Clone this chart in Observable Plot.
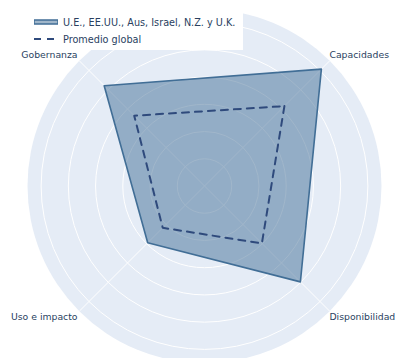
<!DOCTYPE html>
<html>
<head>
<meta charset="utf-8">
<script src="https://cdn.jsdelivr.net/npm/d3@7"></script>
<script src="https://cdn.jsdelivr.net/npm/@observablehq/plot@0.6"></script>
<style>
  html, body { margin: 0; padding: 0; background: #fff; }
  body { font-family: "DejaVu Sans", Verdana, sans-serif; }
  #wrap { position: relative; width: 396px; height: 358px; overflow: hidden; }
  #legend { position: absolute; left: 10px; top: 9px; width: 233px; height: 41px; background: #fff;
            font-size: 9.7px; color: #2a3f5f; }
  .item { position: absolute; left: 24px; display: flex; align-items: center; height: 14px; }
  .item svg { margin-right: 5px; }
</style>
</head>
<body>
<div id="wrap">
  <div id="chart"></div>
  <div id="legend"></div>
</div>
<script>
// ---- data ----
const categories = ["Capacidades", "Disponibilidad", "Uso e impacto", "Gobernanza"];
const groupName = "U.E., EE.UU., Aus, Israel, N.Z. y U.K.";
const globalName = "Promedio global";
const groupValues = [60.7, 49.8, 29.5, 52.1];
const globalValues = [41.5, 29.8, 21.7, 36.5];
const gridTicks = [10, 20, 30, 40, 50, 60];
const radialMax = 65;

// ---- styles ----
const groupColor = "rgb(65,110,150)";
const globalColor = "#2f4a7c";
const bgColor = "#e5ecf6";
const textColor = "#2a3f5f";

// ---- geometry ----
const W = 396, H = 358;
const cx = 204, cy = 185.5, R = 177;
const k = R / radialMax;
const ang = i => (45 - 90 * i) * Math.PI / 180;
const px = (r, i) => r * Math.cos(ang(i));
const py = (r, i) => r * Math.sin(ang(i));

const groupPts = groupValues.map((v, i) => ({x: px(v, i), y: py(v, i)}));
const globalPts = globalValues.map((v, i) => ({x: px(v, i), y: py(v, i)}));
const labels = categories.map((c, i) => ({c, i}));

const chart = Plot.plot({
  width: W,
  height: H,
  margin: 0,
  x: {domain: [-cx / k, (W - cx) / k], axis: null},
  y: {domain: [-(H - cy) / k, cy / k], axis: null},
  r: {type: "linear", domain: [0, radialMax], range: [0, R]},
  style: {fontFamily: '"DejaVu Sans", Verdana, sans-serif', fontSize: "9.3px", color: textColor, background: "transparent"},
  marks: [
    Plot.dot([radialMax], {x: () => 0, y: () => 0, r: d => d, fill: bgColor, stroke: "none"}),
    Plot.dot(gridTicks, {x: () => 0, y: () => 0, r: d => d, fill: "none", stroke: "white", strokeWidth: 1, sort: null}),
    Plot.link(labels, {x1: () => 0, y1: () => 0, x2: d => px(radialMax, d.i), y2: d => py(radialMax, d.i), stroke: "white", strokeWidth: 1}),
    Plot.line(groupPts, {x: "x", y: "y", curve: "linear-closed", fill: groupColor, fillOpacity: 0.5, stroke: groupColor, strokeWidth: 1.6}),
    Plot.line(globalPts, {x: "x", y: "y", curve: "linear-closed", stroke: globalColor, strokeWidth: 2, strokeDasharray: "7,6"}),
    Plot.text(labels.filter(d => d.i < 2), {x: d => px(68, d.i), y: d => py(68, d.i), text: d => d.c, textAnchor: "start", dx: -6, fill: textColor}),
    Plot.text(labels.filter(d => d.i >= 2), {x: d => px(68, d.i), y: d => py(68, d.i), text: d => d.c, textAnchor: "end", dx: 4, fill: textColor})
  ]
});
document.getElementById("chart").appendChild(chart);

// ---- legend ----
const legend = document.getElementById("legend");
const items = [
  {name: groupName, top: 6, swatch: `<svg width="24" height="8"><rect x="0" y="2" width="24" height="4" fill="${groupColor}" fill-opacity="0.5" stroke="${groupColor}" stroke-width="1.5"/></svg>`},
  {name: globalName, top: 23, swatch: `<svg width="24" height="8"><line x1="0" y1="4" x2="24" y2="4" stroke="${globalColor}" stroke-width="2" stroke-dasharray="7,6"/></svg>`}
];
for (const it of items) {
  const d = document.createElement("div");
  d.className = "item";
  d.style.top = it.top + "px";
  d.innerHTML = it.swatch + `<span>${it.name}</span>`;
  legend.appendChild(d);
}
</script>
</body>
</html>
